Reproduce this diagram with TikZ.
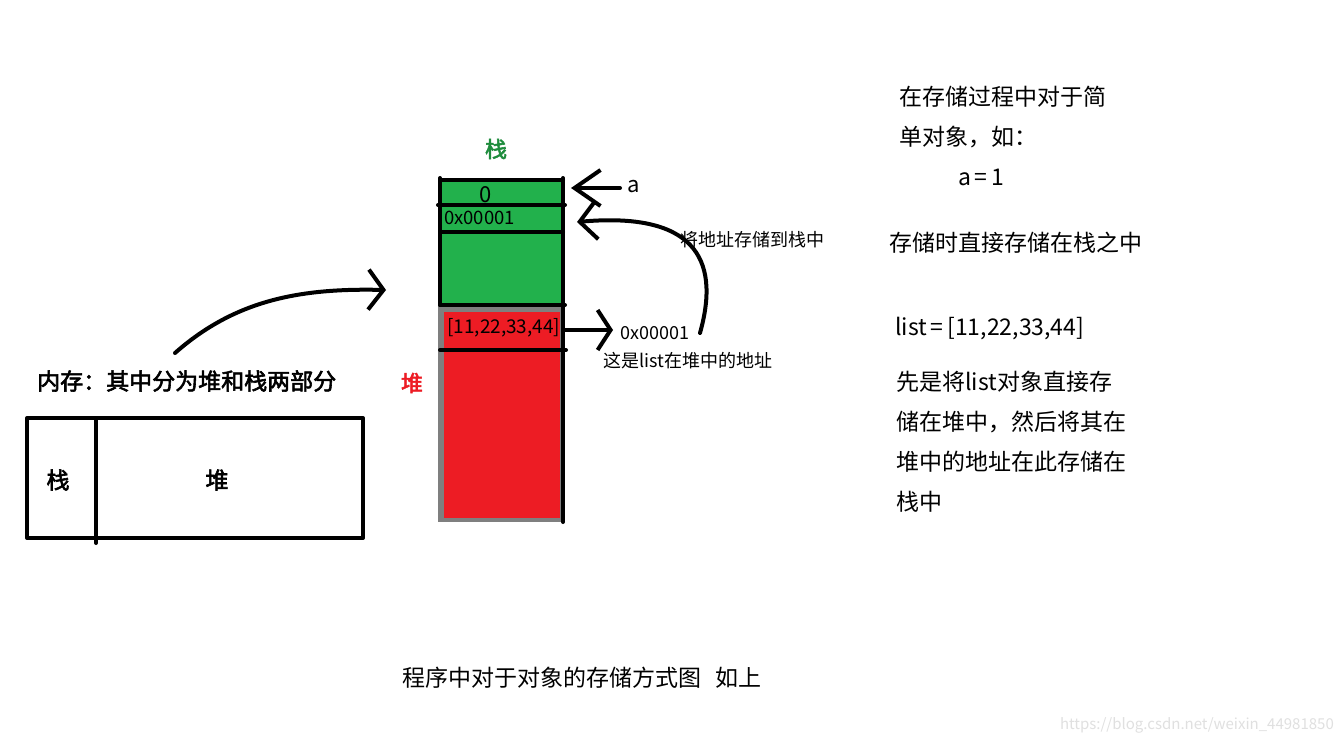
\documentclass[tikz,border=0pt]{standalone}
\usepackage{fontspec}
\setmainfont[AutoFakeBold=2.5]{Noto Sans CJK SC}
\usetikzlibrary{arrows.meta}
\definecolor{stackgreen}{RGB}{34,177,76}
\definecolor{heapred}{RGB}{237,28,36}
\definecolor{heapgray}{RGB}{127,127,127}
\definecolor{titlegreen}{RGB}{30,140,60}
\tikzset{
  ink/.style={line width=4pt, line cap=round, line join=round},
  txt/.style={anchor=west, inner sep=0pt, font=\fontsize{23}{26}\selectfont},
  small/.style={anchor=west, inner sep=0pt, font=\fontsize{18}{21}\selectfont},
  boldtxt/.style={inner sep=0pt, font=\fontsize{23}{26}\selectfont\bfseries},
}
\begin{document}
\begin{tikzpicture}[x=1pt,y=-1pt]
\useasboundingbox[fill=white] (0,0) rectangle (1343,744);

% ---------- left memory box ----------
\node[boldtxt, anchor=west] (title) at (37,381) {内存：其中分为堆和栈两部分};
\draw[ink] (27,418) rectangle (363,538);
\draw[ink] (96,418) -- (96,543);
\node[boldtxt] (mstack) at (58,480) {栈};
\node[boldtxt] (mheap) at (217,480) {堆};
\coordinate (arrStart) at (175,353);
\coordinate (arrEnd) at (386,290);
\draw[ink, -{Straight Barb[length=15pt,width=40pt]}] (arrStart) .. controls (235,300) and (300,288) .. (arrEnd);

% ---------- stack / heap column ----------
\node[boldtxt, text=titlegreen, font=\fontsize{22}{24}\selectfont\bfseries] (stacktitle) at (496,149) {栈};
\node[boldtxt, text=heapred, font=\fontsize{22}{24}\selectfont\bfseries] (heaptitle) at (412,383) {堆};
\fill[stackgreen] (440,178) rectangle (563,305);
\fill[heapgray] (438,306) rectangle (563,522);
\fill[heapred] (444,312) rectangle (560,518);
\draw[ink] (440,180) -- (563,180);
\draw[ink] (440,178) -- (440,305);
\draw[ink] (563,178) -- (563,522);
\draw[ink] (438,205) -- (565,205);
\draw[ink] (440,232) -- (563,232);
\draw[ink] (440,305) -- (565,305);
\draw[ink] (440,350) -- (566,350);

\node[inner sep=0pt, font=\fontsize{22}{24}\selectfont] (cellzero) at (486,195) {0};
\node[small, font=\fontsize{18.5}{21}\selectfont] (celladdr) at (444,218) {0x00001};
\node[small, font=\fontsize{19}{21}\selectfont] (celllist) at (447,328) {[11,22,33,44]};

% arrow from a
\node[txt, font=\fontsize{22}{24}\selectfont] (alabel) at (627,187) {a};
\coordinate (aStart) at (620,188);
\coordinate (aEnd) at (571,188);
\draw[ink, -{Straight Barb[length=26pt,width=36pt]}] (aStart) -- (aEnd);

% arrow from list cell to address
\coordinate (lStart) at (565,330);
\coordinate (lEnd) at (613,330);
\draw[ink, -{Straight Barb[length=13pt,width=40pt]}] (lStart) -- (lEnd);
\node[small] (heapaddr) at (620,333) {0x00001};
\node[small] (heapnote) at (603,361) {这是list在堆中的地址};

% curved arrow back to stack
\coordinate (cStart) at (700,333);
\coordinate (cEnd) at (577,222);
\draw[ink, -{Straight Barb[length=17pt,width=38pt]}] (cStart) .. controls (722,255) and (690,212) .. (cEnd);
\node[small] (storenote) at (680,240) {将地址存储到栈中};

% ---------- right explanations ----------
\node[txt] (r1) at (899,97) {在存储过程中对于简};
\node[txt] (r2) at (899,137) {单对象，如：};
\node[txt] (r3) at (958,177) {a\,=\,1};
\node[txt] (r4) at (889,243) {存储时直接存储在栈之中};
\node[txt] (r5) at (895,329) {list\,=\,[11,22,33,44]};
\node[txt] (r6) at (896,382) {先是将list对象直接存};
\node[txt] (r7) at (896,422) {储在堆中，然后将其在};
\node[txt] (r8) at (896,462) {堆中的地址在此存储在};
\node[txt] (r9) at (896,502) {栈中};

% ---------- bottom caption ----------
\node[txt] (caption) at (402,678) {程序中对于对象的存储方式图\hspace{0.6em}如上};

% watermark
\node[anchor=east, inner sep=0pt, text=black!12, font=\fontsize{15}{17}\selectfont] (wm) at (1334,725) {https://blog.csdn.net/weixin\_44981850};
\end{tikzpicture}
\end{document}
